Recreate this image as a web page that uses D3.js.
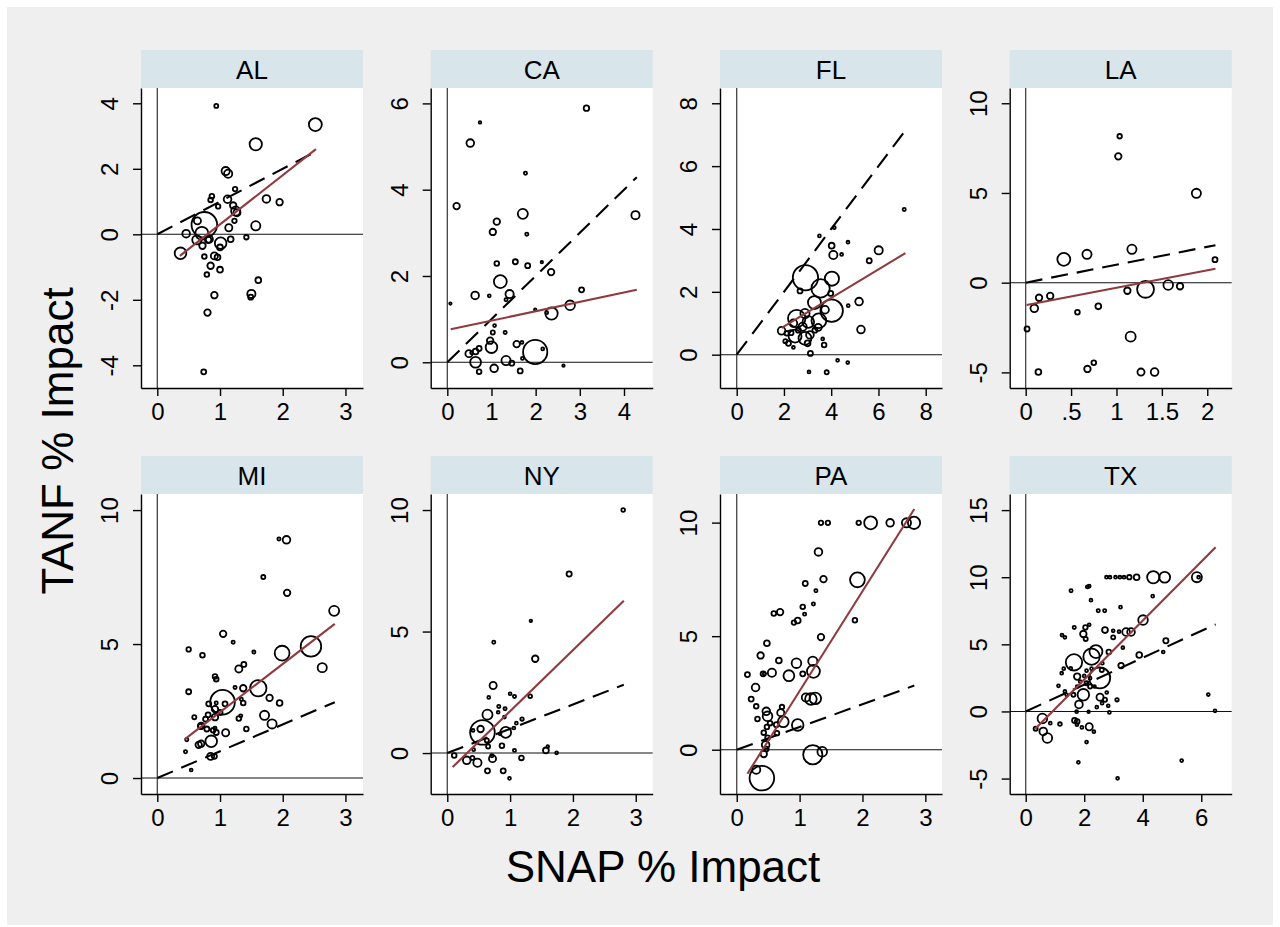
<!DOCTYPE html>
<html>
<head>
<meta charset="utf-8">
<script src="https://cdn.jsdelivr.net/npm/d3@7"></script>
<style>
  body { margin: 0; background: #fff; }
  svg { display: block; }
  text { font-family: "Liberation Sans", Arial, sans-serif; fill: #000; }
</style>
</head>
<body>
<div id="chart"></div>
<script>
// states, in panel order
const states = ["AL", "CA", "FL", "LA", "MI", "NY", "PA", "TX"];

// each point: [SNAP % impact, TANF % impact, weight]
const ptsAL = [
  [0.94,3.92,0.9],[2.52,3.35,10],[1.57,2.75,9],[1.09,1.93,4],[1.13,1.85,4],[1.24,1.38,1.2],
  [0.87,1.16,1.3],[0.85,1.05,1.3],[1.12,1.07,3.5],[1.74,1.08,3.5],[1.95,0.98,2.5],[0.97,0.85,1.2],
  [1.21,0.88,2.5],[1.25,0.71,5],[1.27,0.66,3],[0.64,0.41,3],[1.23,0.41,1.2],[0.75,0.29,39],
  [1.57,0.26,5],[1.14,0.20,3],[0.46,0.02,3.5],[0.71,0.03,10],[0.63,-0.17,5],[0.81,-0.17,2.5],
  [1.42,-0.09,1.2],[1.17,-0.15,2],[0.83,-0.15,3],[1.01,-0.27,8],[1.0,-0.4,2],[0.37,-0.58,8],
  [0.72,-0.35,2.5],[0.75,-0.68,1.3],[0.91,-0.66,3],[0.96,-0.70,2],[0.85,-0.96,2.5],[1.0,-1.08,2],
  [0.79,-1.23,1.3],[1.61,-1.40,2],[0.91,-1.86,2.5],[1.50,-1.82,4],[1.49,-1.92,1.5],[0.80,-2.39,2.5],
  [0.74,-4.2,1.5]
];
const ptsCA = [
  [3.15,5.89,1.8],[0.74,5.56,0.4],[0.52,5.08,3.5],[1.77,4.38,0.6],[0.21,3.62,2.5],[1.71,3.44,6],
  [4.26,3.41,4],[1.12,3.26,2.5],[1.03,3.02,2.5],[1.80,2.97,0.6],[1.12,2.29,1.3],[1.54,2.33,1.5],
  [1.82,2.24,1.5],[2.14,2.32,0.35],[2.35,2.09,2.5],[1.20,1.87,10],[0.63,1.55,3.5],[1.41,1.58,4],
  [0.95,1.54,0.5],[1.33,1.45,0.6],[3.04,1.68,1.5],[0.07,1.36,0.35],[2.78,1.32,5.5],[1.99,1.22,0.35],
  [2.36,1.13,9],[2.25,1.15,0.5],[1.07,0.85,0.5],[1.31,0.69,0.6],[1.03,0.69,1],[0.97,0.50,2.5],
  [1.00,0.35,8],[0.72,0.32,1.5],[0.64,0.25,2],[0.49,0.20,3],[1.57,0.42,2.5],[1.69,0.46,0.5],
  [1.99,0.24,35],[2.16,0.31,0.5],[0.64,0.00,7],[1.33,0.04,5],[1.46,-0.02,1.5],[1.70,0.09,0.5],
  [1.06,-0.14,3.5],[0.72,-0.22,1.3],[1.65,-0.20,1.5],[2.63,-0.08,0.35],[0.55,0.22,0.5]
];
const ptsFL = [
  [7.09,4.62,0.6],[4.13,4.04,0.5],[3.50,3.78,0.5],[4.71,3.58,0.5],[4.02,3.47,2],[4.09,3.17,4],
  [4.44,3.19,0.5],[6.01,3.32,4],[5.61,2.99,1.5],[2.91,2.45,38],[4.03,2.42,12],[3.55,2.11,20],
  [2.68,2.03,1.5],[3.98,1.95,1.5],[3.29,1.66,10],[5.18,1.69,3.5],[4.72,1.56,0.5],[4.02,1.40,30],
  [3.74,1.43,3.5],[2.54,1.15,18],[2.89,1.31,5],[3.48,1.08,13],[3.03,1.04,8],[2.40,1.00,3.5],
  [2.79,0.89,4],[1.90,0.76,3.5],[2.30,0.70,1.5],[5.26,0.80,3.5],[3.45,0.87,3],[2.47,0.59,10],
  [2.89,0.52,10],[3.10,0.63,3.5],[2.12,0.68,1.3],[2.19,0.36,1.5],[2.40,0.23,0.5],[3.00,0.36,2],
  [3.64,0.50,0.5],[3.70,0.31,1.3],[3.12,0.04,1.5],[4.27,-0.18,0.5],[4.70,-0.25,0.5],[3.06,-0.55,0.5],
  [3.81,-0.56,1],[2.06,0.43,1],[2.61,0.78,1.5],[3.31,0.78,1.5]
];
const ptsLA = [
  [1.035,8.16,1.2],[1.02,7.04,2.5],[1.88,4.98,5],[0.42,1.30,10],[0.675,1.58,5],[1.17,1.86,5],
  [2.085,1.28,1.5],[1.32,-0.37,17],[1.57,-0.13,5.5],[1.70,-0.20,2.5],[1.12,-0.45,2.5],[0.147,-0.84,2.5],
  [0.27,-0.74,2.5],[0.095,-1.43,3.5],[0.80,-1.32,2],[0.57,-1.65,1.3],[0.015,-2.58,1.5],[1.156,-3.01,6],
  [0.75,-4.46,1.3],[0.68,-4.81,2.5],[0.14,-4.98,2],[1.27,-4.98,3],[1.42,-4.98,3.5]
];
const ptsMI = [
  [2.06,8.89,3.5],[1.94,8.92,0.6],[1.69,7.50,1],[2.07,6.91,2.5],[2.82,6.24,6],[1.05,5.38,2.5],
  [1.21,5.07,0.6],[0.50,4.80,1.2],[2.45,4.91,25],[1.99,4.66,13],[1.54,4.70,0.6],[0.72,4.58,1.3],
  [2.63,4.12,5],[1.38,4.24,1.5],[1.30,4.07,3],[0.92,3.79,1.3],[0.94,3.69,1.3],[1.61,3.35,16],
  [1.37,3.35,2.5],[1.24,3.38,0.6],[0.50,3.22,1.5],[1.04,2.83,36],[1.79,2.99,2.5],[1.95,2.80,2],
  [1.37,2.80,1.3],[0.82,2.77,1.5],[0.94,2.80,0.6],[1.08,2.77,1.5],[1.34,2.94,0.6],[0.92,2.57,2.5],
  [1.00,2.45,1.5],[0.81,2.36,1.5],[0.92,2.27,2.5],[0.59,2.27,1],[0.77,2.20,1.5],[1.71,2.34,5],
  [1.30,2.22,1.3],[1.33,2.32,0.6],[1.83,2.02,5],[0.70,1.95,2.5],[0.79,1.83,1.5],[0.89,1.78,1.3],
  [0.94,1.70,1.5],[1.09,1.69,3],[1.42,1.83,1.3],[0.92,1.86,0.6],[0.47,1.43,0.6],[0.86,1.37,8],
  [0.70,1.28,2.5],[0.66,1.24,2.5],[0.45,0.98,0.6],[0.85,0.81,3],[0.91,0.81,1.5],[0.54,0.30,0.5],
  [0.69,1.93,1.5]
];
const ptsNY = [
  [2.80,10.0,0.8],[1.94,7.37,1.6],[1.33,5.44,0.4],[0.74,4.56,0.6],[1.40,3.88,2.5],[0.73,2.78,3],
  [1.00,2.44,0.5],[1.07,2.33,0.6],[1.32,2.34,0.8],[0.66,2.29,0.5],[0.82,1.92,0.6],[0.92,1.82,0.6],
  [0.81,1.68,0.5],[0.64,1.58,6],[0.91,1.48,0.5],[1.19,1.40,0.7],[1.10,1.23,0.5],[0.56,0.85,36],
  [0.53,0.99,2.5],[0.93,0.85,7],[0.41,0.93,0.5],[0.84,0.79,0.5],[1.06,1.03,0.5],[0.63,0.52,1],
  [0.65,0.27,1],[0.87,0.30,1.3],[0.42,0.14,0.5],[1.07,0.11,0.6],[1.57,0.11,2],[1.60,0.27,0.4],
  [1.74,0.01,0.5],[0.11,-0.10,1.3],[0.31,-0.30,3.5],[0.48,-0.40,4],[0.72,-0.23,3],[1.18,-0.20,1.3],
  [0.40,-0.20,1],[0.64,-0.73,1.5],[0.89,-0.73,1.5],[0.99,-1.04,0.5],[0.71,-0.11,0.6]
];
const ptsPA = [
  [1.34,9.99,1.2],[1.45,9.99,1.2],[1.94,9.99,1.2],[2.13,9.99,10],[2.44,9.99,3.5],[2.70,9.99,5],
  [2.82,9.99,9],[1.30,8.71,3.5],[1.92,7.48,13],[1.38,7.51,2.5],[1.09,7.32,1.5],[1.26,7.00,0.6],
  [1.22,6.42,0.6],[1.05,6.29,1.3],[1.08,5.97,0.6],[0.59,6.00,1.3],[0.69,6.06,2.5],[1.88,5.70,1.3],
  [0.97,5.69,2],[0.91,5.60,1.2],[1.34,4.96,2.5],[0.48,4.69,2],[0.38,4.15,2.5],[0.67,3.93,2],
  [0.95,3.81,5.5],[1.21,3.90,5],[0.17,3.31,1.5],[0.42,3.34,1.5],[0.44,3.34,0.6],[0.56,3.39,4],
  [0.83,3.26,7],[1.05,3.34,1.5],[1.22,3.45,10],[0.30,2.74,3.5],[0.23,2.23,1.5],[0.31,1.91,1.3],
  [0.47,1.69,3.5],[0.49,1.47,5.5],[0.70,1.63,3],[0.72,1.88,1.2],[0.33,1.35,1.3],[1.10,2.30,4],
  [1.18,2.23,8],[1.25,2.26,8],[0.74,1.23,7],[0.97,1.09,8],[0.63,1.10,1.5],[0.48,1.00,1.3],
  [0.43,0.75,1.3],[0.64,0.73,1.3],[0.49,0.53,1.3],[0.46,0.21,3.5],[0.43,-0.19,2.5],[0.47,0.03,1.3],
  [1.21,-0.22,22],[1.36,-0.09,5.5],[0.31,-0.88,4],[0.40,-1.25,36],[0.53,1.17,1.3]
];
const ptsTX = [
  [2.76,10,0.5],[2.88,10,0.5],[3.07,10,0.5],[3.22,10,0.5],[3.36,10,0.5],[3.54,10,1.2],[3.79,10,2],
  [4.36,10,9],[4.75,10,7],[5.85,10,6],[5.91,10,0.5],
  [1.55,8.99,0.6],[2.11,9.28,0.6],[2.17,9.33,0.5],[4.34,8.59,0.5],[2.23,8.29,0.5],[2.48,7.5,0.6],
  [2.70,7.5,0.6],[3.24,7.77,0.5],[4.01,6.81,5.5],[1.24,5.69,0.5],[1.34,5.52,0.5],[1.66,6.26,0.6],
  [2.04,6.26,1.2],[2.17,6.46,0.5],[1.97,5.77,2.5],[2.05,5.40,1],[2.71,6.06,2],[2.99,6.01,0.5],
  [3.19,5.94,0.5],[2.99,5.52,1],[3.43,5.92,3.5],[3.60,5.92,3.5],[4.79,5.27,1.6],[2.84,4.43,1.3],
  [3.32,4.75,0.5],[4.70,4.43,0.5],[3.88,4.21,2],[2.25,4.08,16],[2.40,4.46,10],[1.65,3.66,16],
  [2.62,3.59,0.5],[3.26,3.42,1.8],[2.53,2.50,26],[1.76,2.60,2.5],[1.23,2.85,0.5],[1.30,3.19,0.5],
  [1.54,3.22,0.5],[2.00,2.65,0.5],[2.08,3.04,0.5],[2.25,3.19,0.5],[2.60,3.09,1],[1.97,1.24,8],
  [1.82,0.52,3.5],[1.12,1.91,0.5],[1.34,1.49,0.5],[1.40,1.24,0.5],[1.63,1.24,1],[1.76,1.86,0.5],
  [1.86,2.23,0.5],[2.08,2.10,1],[2.20,1.86,1],[2.35,1.86,0.5],[2.20,2.48,0.5],[2.54,1.06,3],
  [2.77,1.41,0.5],[2.71,0.87,1],[2.61,0.62,0.5],[2.82,0.42,0.5],[2.43,0.32,0.5],[3.12,0.87,0.7],
  [2.86,-0.07,0.5],[2.15,-0.02,0.4],[1.74,-0.02,0.5],[1.67,-0.67,1.5],[1.76,-0.74,1.3],[1.75,-0.99,0.5],
  [2.17,-1.14,3],[2.33,-1.51,0.5],[1.92,-1.19,0.5],[1.17,-0.94,0.8],[0.84,-0.87,0.5],[0.34,-1.29,1],
  [0.57,-0.52,5.5],[0.60,-1.49,3.5],[0.74,-1.98,5.5],[2.08,-2.28,0.5],[1.80,-3.79,0.5],[3.14,-4.98,0.5],
  [5.33,-3.66,0.5],[6.24,1.26,0.5],[6.47,0.05,0.5]
];
const points = [ptsAL, ptsCA, ptsFL, ptsLA, ptsMI, ptsNY, ptsPA, ptsTX];

// fitted line per state: [x0, y0, x1, y1]
const fits = [
  [0.36,-0.66,2.53,2.60], [0.077,0.765,4.29,1.68], [1.90,0.85,7.14,3.23], [0.01,-1.24,2.09,0.78],
  [0.44,1.45,2.83,5.75], [0.086,-0.575,2.81,6.27], [0.17,-1.06,2.825,10.6], [0.32,-1.31,6.49,12.23]
];

// axis ranges and ticks
const xRanges = [[-0.26,3.28],[-0.376,4.65],[-0.707,8.69],[-0.176,2.269],[-0.26,3.28],[-0.264,3.27],[-0.266,3.265],[-0.547,7.04]];
const yRanges = [[-4.693,4.467],[-0.596,6.357],[-1.06,8.486],[-5.87,10.85],[-0.596,10.6],[-1.685,10.66],[-1.95,11.26],[-6.15,16.2]];
const xTicks = [[0,1,2,3],[0,1,2,3,4],[0,2,4,6,8],[0,0.5,1,1.5,2],[0,1,2,3],[0,1,2,3],[0,1,2,3],[0,2,4,6]];
const yTicks = [[-4,-2,0,2,4],[0,2,4,6],[0,2,4,6,8],[-5,0,5,10],[0,5,10],[0,5,10],[0,5,10],[-5,0,5,10,15]];

const W = 1280, H = 927;
const colLeft = [141, 430.7, 720, 1009.7];
const stripTop = [50, 456];
const stripH = 38, plotW = 222, plotH = 300;

const svg = d3.select("#chart").append("svg").attr("width", W).attr("height", H);
svg.append("rect").attr("x", 7).attr("y", 7).attr("width", 1266).attr("height", 918).attr("fill", "#efefef");

const rScale = d3.scaleSqrt().domain([0, 1]).range([0, 2.05]);
const fmt = v => (v > 0 && v < 1) ? String(v).replace(/^0/, "") : String(v);

states.forEach((st, i) => {
  const left = colLeft[i % 4];
  const top = stripTop[Math.floor(i / 4)] + stripH;
  const bottom = top + plotH;
  const g = svg.append("g");

  g.append("rect").attr("x", left).attr("y", top - stripH).attr("width", plotW).attr("height", stripH)
    .attr("fill", "#d8e5eb");
  g.append("text").attr("x", left + plotW / 2).attr("y", top - stripH + 28.5)
    .attr("text-anchor", "middle").attr("font-size", 26).text(st);
  g.append("rect").attr("x", left).attr("y", top).attr("width", plotW).attr("height", plotH).attr("fill", "#fff");

  const x = d3.scaleLinear().domain(xRanges[i]).range([left, left + plotW]);
  const y = d3.scaleLinear().domain(yRanges[i]).range([bottom, top]);

  // reference lines at zero
  g.append("line").attr("x1", left).attr("x2", left + plotW).attr("y1", y(0)).attr("y2", y(0))
    .attr("stroke", "#111").attr("stroke-width", 1.1);
  g.append("line").attr("x1", x(0)).attr("x2", x(0)).attr("y1", top).attr("y2", bottom)
    .attr("stroke", "#444").attr("stroke-width", 1.3);

  g.append("g").selectAll("circle").data(points[i]).join("circle")
    .attr("cx", d => x(d[0])).attr("cy", d => y(d[1])).attr("r", d => rScale(d[2]))
    .attr("fill", "none").attr("stroke", "#000").attr("stroke-width", 1.8);

  const f = fits[i];
  // 45-degree line
  g.append("line").attr("x1", x(0)).attr("y1", y(0)).attr("x2", x(f[2])).attr("y2", y(f[2]))
    .attr("stroke", "#000").attr("stroke-width", 2.1).attr("stroke-dasharray", "17,9");
  g.append("line").attr("x1", x(f[0])).attr("y1", y(f[1])).attr("x2", x(f[2])).attr("y2", y(f[3]))
    .attr("stroke", "#8f3a3e").attr("stroke-width", 2.1);

  const ax = g.append("g").attr("transform", `translate(${left},0)`)
    .call(d3.axisLeft(y).tickValues(yTicks[i]).tickSize(8).tickSizeOuter(0).tickFormat(fmt));
  ax.selectAll("text").attr("x", null).attr("dy", null).attr("y", -23)
    .attr("transform", "rotate(-90)").attr("text-anchor", "middle");

  const bx = g.append("g").attr("transform", `translate(0,${bottom})`)
    .call(d3.axisBottom(x).tickValues(xTicks[i]).tickSize(8).tickSizeOuter(0).tickFormat(fmt));
  bx.selectAll("text").attr("dy", null).attr("y", 32);

  [ax, bx].forEach(a => {
    a.attr("font-family", null).attr("font-size", 24);
    a.select(".domain").attr("stroke", "#000").attr("stroke-width", 1.4);
    a.selectAll(".tick line").attr("stroke", "#000").attr("stroke-width", 1.4);
  });
});

svg.append("text").attr("x", 663).attr("y", 882).attr("text-anchor", "middle")
  .attr("font-size", 44).text("SNAP % Impact");
svg.append("text").attr("transform", "translate(73,441) rotate(-90)").attr("text-anchor", "middle")
  .attr("font-size", 44).text("TANF % Impact");
</script>
</body>
</html>
